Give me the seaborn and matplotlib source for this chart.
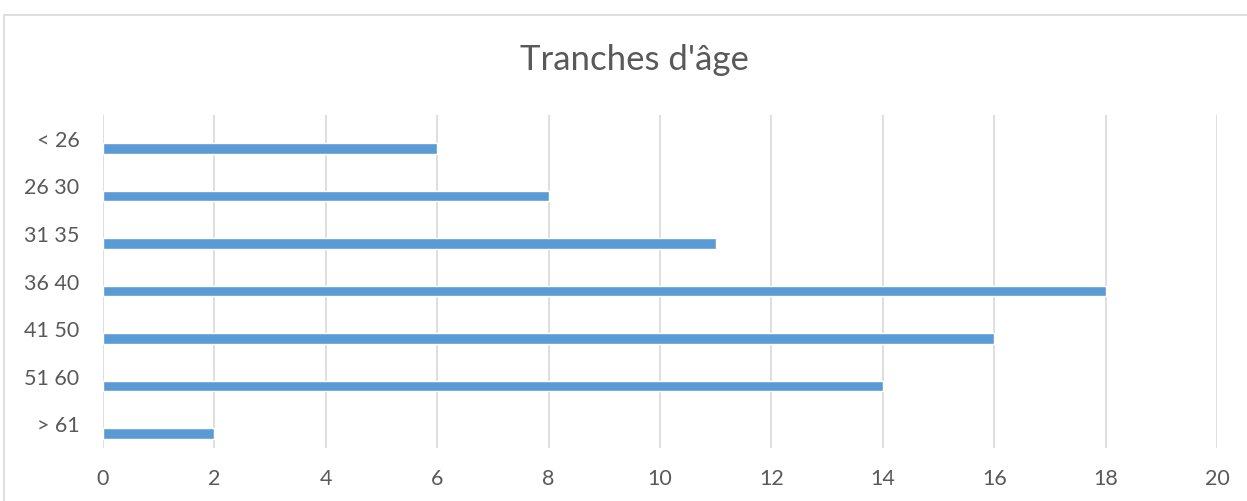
import matplotlib
matplotlib.use("Agg")
import matplotlib.pyplot as plt
from matplotlib.patches import Rectangle
import numpy as np
import pandas as pd
import seaborn as sns

categories = ["< 26", "26 30", "31 35", "36 40", "41 50", "51 60", "> 61"]
values = [6, 8, 11, 18, 16, 14, 2]
x_ticks = [0, 2, 4, 6, 8, 10, 12, 14, 16, 18, 20]
title = "Tranches d'âge"

sns.set_theme(style="white")
plt.rcParams['font.family'] = ['Lato', 'DejaVu Sans']

df = pd.DataFrame({"cat": categories, "val": values})

fig = plt.figure(figsize=(12.47, 5.01), dpi=100)
ax = fig.add_axes([103/1247, 1-448/501, (1217-103)/1247, (448-115)/501])

sns.barplot(data=df, y="cat", x="val", orient="h", color="#5B9BD5",
            saturation=1, width=0.22, ax=ax, order=categories)

ax.set_xlim(0, 20)
ax.set_ylim(6.3, -0.7)
ax.set_xticks(x_ticks)
ax.set_xticklabels([str(t) for t in x_ticks])
ax.set_yticks(np.arange(len(categories)) - 0.2)
ax.set_yticklabels(categories)
ax.set_xlabel("")
ax.set_ylabel("")
ax.grid(axis="x", color="#D9D9D9", linewidth=1.2)
ax.grid(axis="y", visible=False)
ax.set_axisbelow(True)
for s in ax.spines.values():
    s.set_visible(False)
ax.tick_params(axis="both", length=0, colors="#595959", labelsize=15.5)
ax.tick_params(axis="x", pad=15)
ax.tick_params(axis="y", pad=17)

fig.text(634/1247, 1-60/501, title, ha="center", va="center",
         fontsize=25, color="#595959")

fig.add_artist(Rectangle((4/1247, -0.2), 1.2, 1-15/501+0.2,
                         transform=fig.transFigure, fill=False,
                         edgecolor="#D9D9D9", linewidth=1.2))

fig.savefig("out.png", dpi=100, facecolor="white")
